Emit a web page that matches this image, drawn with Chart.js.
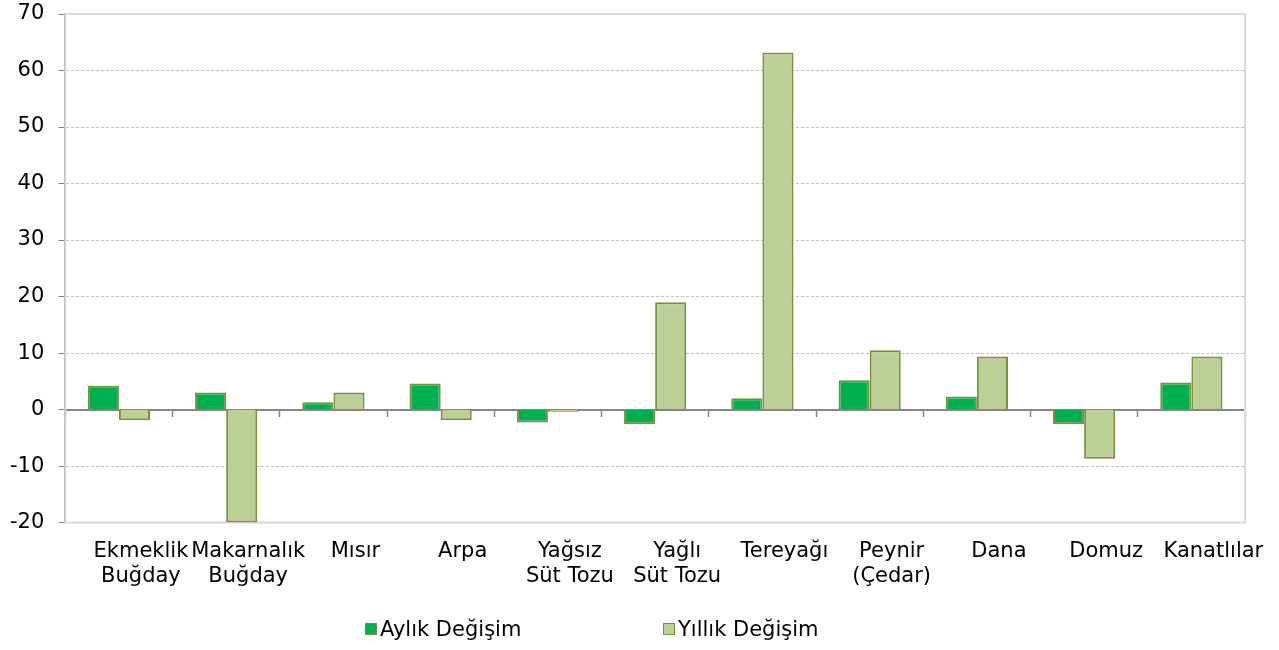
<!DOCTYPE html>
<html lang="tr">
<head>
<meta charset="utf-8">
<title>Aylık ve Yıllık Değişim</title>
<script src="https://cdn.jsdelivr.net/npm/chart.js@4/dist/chart.umd.min.js"></script>
<style>
    html, body { margin: 0; padding: 0; background: #fff; }
    #kutu { position: relative; width: 1279px; height: 650px; }
    #lejant { position: absolute; left: 365px; top: 617px; display: flex;
              font-family: Verdana, "DejaVu Sans", sans-serif; font-size: 21px; color: #000; }
    .lejant-oge { display: flex; align-items: center; width: 298px; }
    .lejant-kare { width: 12px; height: 12px; margin-right: 3px; box-sizing: border-box; border: 1px solid #76923c; }
</style>
</head>
<body>
<div id="kutu">
    <canvas id="myChart" width="1279" height="650"></canvas>
    <div id="lejant"></div>
</div>
<script>
    // kategoriler
    let urunler = [
        ['Ekmeklik', 'Buğday'],
        ['Makarnalık', 'Buğday'],
        'Mısır',
        'Arpa',
        ['Yağsız', 'Süt Tozu'],
        ['Yağlı', 'Süt Tozu'],
        'Tereyağı',
        ['Peynir', '(Çedar)'],
        'Dana',
        'Domuz',
        'Kanatlılar'
    ];

    // seriler (%)
    let aylikDegisim = [4.2, 3.0, 1.3, 4.6, -2.3, -2.6, 2.0, 5.2, 2.3, -2.6, 4.8];
    let yillikDegisim = [-1.9, -20.0, 3.0, -1.9, -0.4, 19.0, 63.2, 10.5, 9.4, -8.7, 9.4];

    // y ekseni
    let yMin = -20;
    let yMax = 70;
    let yAdim = 10;

    const yazi = 'Verdana, "DejaVu Sans", sans-serif';
    Chart.defaults.font.family = yazi;
    Chart.defaults.font.size = 21;
    Chart.defaults.color = '#000';

    // cizim alaninin cercevesi (ust, sag, alt)
    const cerceve = {
        id: 'cerceve',
        beforeDatasetsDraw(chart) {
            const { ctx, chartArea } = chart;
            ctx.save();
            ctx.strokeStyle = '#d9d9d9';
            ctx.lineWidth = 2;
            ctx.strokeRect(chartArea.left, chartArea.top, chartArea.right - chartArea.left, chartArea.bottom - chartArea.top);
            ctx.restore();
        }
    };

    let dados = {
        labels: urunler,
        datasets: [{
            label: 'Aylık Değişim',
            data: aylikDegisim,
            backgroundColor: '#00b050',
            borderColor: '#76923c',
            borderWidth: 2,
            xAxisID: 'x'
        },
        {
            label: 'Yıllık Değişim',
            data: yillikDegisim,
            backgroundColor: '#bbcf97',
            borderColor: '#76923c',
            borderWidth: 2,
            xAxisID: 'x'
        }]
    };

    const config = {
        type: 'bar',
        data: dados,
        plugins: [cerceve],
        options: {
            responsive: false,
            animation: false,
            categoryPercentage: 0.58,
            barPercentage: 1,
            layout: { padding: { left: -4, right: 34, top: 0, bottom: 53 } },
            plugins: {
                legend: { display: false },
                tooltip: { enabled: false }
            },
            scales: {
                x: {
                    type: 'category',
                    position: 'bottom',
                    offset: true,
                    grid: { display: false },
                    border: { display: false },
                    ticks: {
                        autoSkip: false,
                        maxRotation: 0,
                        padding: 8,
                        labelOffset: 22,
                        font: { size: 21, lineHeight: 1.2 }
                    }
                },
                // sifir cizgisi ve kategori araligi isaretleri
                x0: {
                    type: 'category',
                    position: { y: 0 },
                    offset: true,
                    grid: {
                        offset: true,
                        drawOnChartArea: false,
                        drawTicks: true,
                        tickLength: 6,
                        tickColor: '#868686',
                        tickWidth: 1.5
                    },
                    border: { display: true, color: '#868686', width: 2 },
                    ticks: { display: false }
                },
                y: {
                    min: yMin,
                    max: yMax,
                    ticks: { stepSize: yAdim, padding: 14 },
                    border: { display: true, color: '#868686', width: 2, dash: [3, 2] },
                    grid: {
                        color: function (c) {
                            let v = c.tick ? c.tick.value : null;
                            if (v === 0 || v === yMin || v === yMax) return 'rgba(0,0,0,0)';
                            return '#c0c0c0';
                        },
                        lineWidth: 1,
                        tickColor: '#868686',
                        tickLength: 7
                    },
                    // etiket boslugu ust/alt payi buyutmesin
                    afterFit: function (scale) {
                        scale.paddingTop = 14;
                        scale.paddingBottom = 14;
                    }
                }
            }
        }
    };

    let myChart = new Chart(document.getElementById('myChart'), config);

    // lejant
    function lejantOlustur(chart) {
        let alan = document.getElementById('lejant');
        alan.innerHTML = '';
        chart.data.datasets.forEach(function (ds) {
            let oge = document.createElement('div');
            oge.className = 'lejant-oge';
            let kare = document.createElement('span');
            kare.className = 'lejant-kare';
            kare.style.background = ds.backgroundColor;
            let metin = document.createElement('span');
            metin.textContent = ds.label;
            oge.appendChild(kare);
            oge.appendChild(metin);
            alan.appendChild(oge);
        });
    }
    lejantOlustur(myChart);
</script>
</body>
</html>
